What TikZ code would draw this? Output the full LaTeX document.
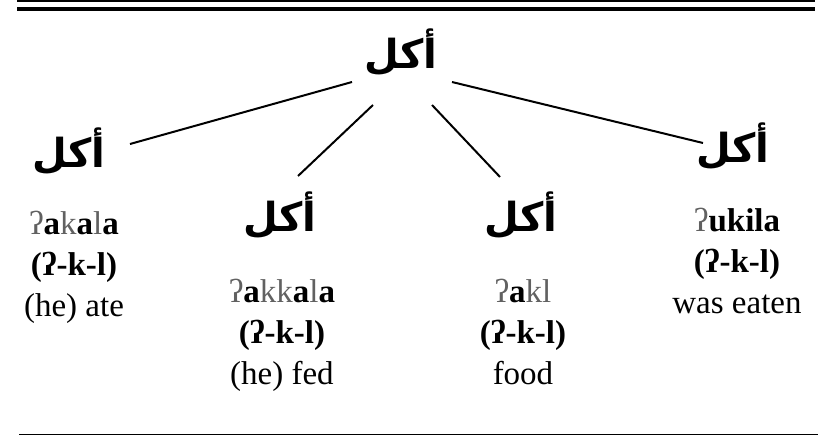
\documentclass[tikz,border=0pt]{standalone}
\usepackage{fontspec}
\setmainfont{Liberation Serif}
\newfontfamily\arabicfont[Script=Arabic]{DejaVu Sans}
\TeXXeTstate=1
\newcommand{\akl}{\beginR أكل\endR}
\newcommand{\cons}[1]{\textcolor{black!62}{#1}}

\begin{document}
\begin{tikzpicture}[x=1pt,y=-1pt]
\tikzstyle{every node}+=[inner sep=0pt]
\tikzstyle{word}=[font=\arabicfont\bfseries\fontsize{40}{44}\selectfont]
\tikzstyle{gloss}=[anchor=north,align=center,font=\fontsize{33}{41}\selectfont]
\tikzstyle{branch}=[line width=2pt]
\useasboundingbox (0,0) rectangle (839,436);
% rules
\draw [line width=2pt] (17,1) -- (815,1);
\draw [line width=3.5pt] (17,9) -- (815,9);
\draw [line width=1.5pt] (19,434.5) -- (818,434.5);
% root and derived words
\node [word] (root) at (401,52) {\akl};
\node [word] (ate) at (69,151) {\akl};
\node [word] (fed) at (280,215) {\akl};
\node [word] (food) at (521,215) {\akl};
\node [word] (eaten) at (733,146) {\akl};
% glosses
\node [gloss] (ateg) at (74,211) {\cons{ʔ}\textbf{a}\cons{k}\textbf{a}\cons{l}\textbf{a}\\\textbf{(ʔ-k-l)}\\(he) ate};
\node [gloss] (fedg) at (282,279) {\cons{ʔ}\textbf{a}\cons{kk}\textbf{a}\cons{l}\textbf{a}\\\textbf{(ʔ-k-l)}\\(he) fed};
\node [gloss] (foodg) at (523,279) {\cons{ʔ}\textbf{a}\cons{kl}\\\textbf{(ʔ-k-l)}\\food};
\node [gloss] (eateng) at (737,208) {\cons{ʔ}\textbf{ukila}\\\textbf{(ʔ-k-l)}\\was eaten};
% branches
\draw [branch] ([shift={(-49,30)}]root.center) -- ([shift={(61,-7)}]ate.center);
\draw [branch] ([shift={(-28,53)}]root.center) -- ([shift={(18,-39)}]fed.center);
\draw [branch] ([shift={(31,53)}]root.center) -- ([shift={(-21,-38)}]food.center);
\draw [branch] ([shift={(51,30)}]root.center) -- ([shift={(-30,-3)}]eaten.center);
\end{tikzpicture}
\end{document}
